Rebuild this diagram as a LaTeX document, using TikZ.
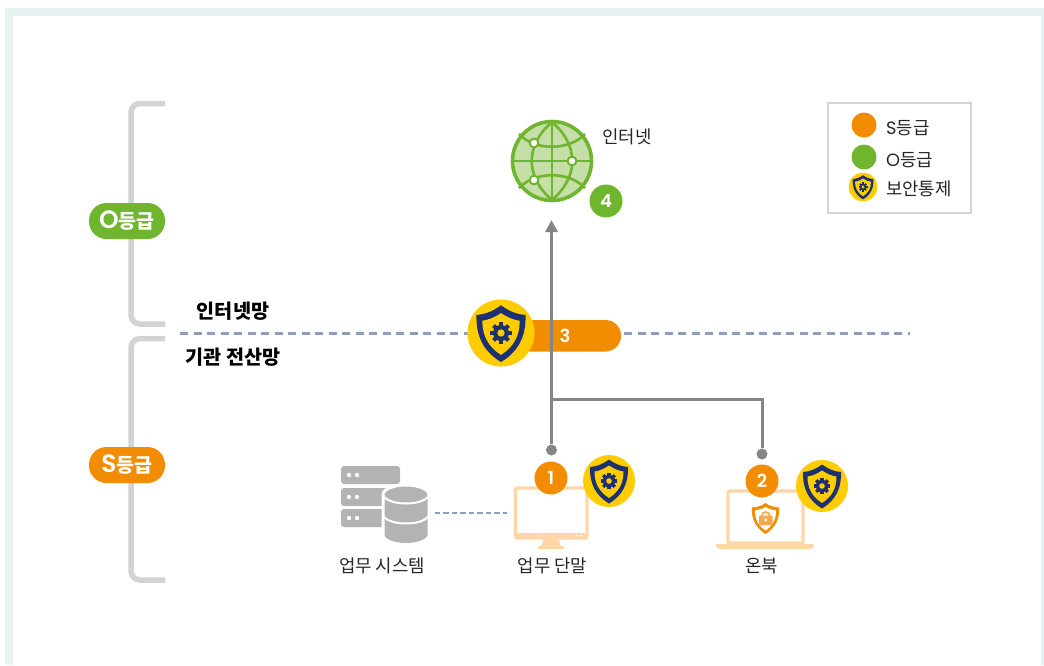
\documentclass[tikz,border=0pt]{standalone}
\usepackage{fontspec}
\setmainfont{Noto Sans CJK KR}
\newfontfamily\latinbold{Poppins SemiBold}
\usetikzlibrary{arrows.meta}
\definecolor{frameC}{HTML}{E6F3F2}
\definecolor{orangeC}{HTML}{F28C00}
\definecolor{greenC}{HTML}{6FB52E}
\definecolor{yellowC}{HTML}{FFCC00}
\definecolor{navyC}{HTML}{1D3170}
\definecolor{grayL}{HTML}{D2D3D3}
\definecolor{grayM}{HTML}{858585}
\definecolor{dashC}{HTML}{8F9EC0}
\definecolor{peachC}{HTML}{FDD7A8}
\definecolor{serverC}{HTML}{B2B3B4}
\definecolor{globeF}{HTML}{C6DFA8}
\definecolor{lockC}{HTML}{F6A84A}
\tikzset{
  lbl/.style={font=\fontsize{17.8}{20}\selectfont,text=black!85,inner sep=0pt},
  blbl/.style={font=\fontsize{19.6}{21}\selectfont\bfseries,text=black,inner sep=0pt},
  bracket/.style={draw=grayL,line width=5.5pt,rounded corners=9pt},
  dashline/.style={draw=dashC,line width=3pt,dash pattern=on 8pt off 5.5pt},
  conn/.style={draw=grayM,line width=3pt},
  pill/.style={rounded corners=17.5pt,minimum width=76pt,minimum height=36pt,inner sep=0pt,text=white,font=\fontsize{19.5}{20}\selectfont},
  num/.style={circle,minimum size=33pt,inner sep=0pt,text=white,font=\fontsize{18}{20}\selectfont\latinbold},
  dot/.style={circle,fill=grayM,minimum size=11pt,inner sep=0pt},
  pics/shield/.style={code={
    \begin{scope}[scale=#1]
      \fill[yellowC] (0,0) circle (26);
      \fill[navyC] (0,-21.5) .. controls (6,-17) and (12,-14.5) .. (19,-14) .. controls (19.5,2) and (14,14) .. (0,22.5) .. controls (-14,14) and (-19.5,2) .. (-19,-14) .. controls (-12,-14.5) and (-6,-17) .. (0,-21.5) -- cycle;
      \fill[yellowC] (0,-15.5) .. controls (5,-12) and (10,-10) .. (14.5,-9.5) .. controls (14.5,2) and (10,10.5) .. (0,17) .. controls (-10,10.5) and (-14.5,2) .. (-14.5,-9.5) .. controls (-10,-10) and (-5,-12) .. (0,-15.5) -- cycle;
      \foreach \a in {0,45,...,315}{\fill[navyC,rotate=\a] (-1.6,-1) rectangle (1.6,-8.2);}
      \fill[navyC] (0,0) circle (6.2);
      \fill[yellowC] (0,0) circle (2.8);
    \end{scope}
  }},
}
\begin{document}
\begin{tikzpicture}[x=1pt,y=-1pt]
\useasboundingbox (0,0) rectangle (1044,665);
\fill[white] (0,0) rectangle (1044,665);
\fill[frameC] (5,8) rectangle (1043.5,665);
\fill[white] (13,16) rectangle (1040.5,665);

% brackets
\draw[bracket] (165,103.5) -- (131,103.5) -- (131,324) -- (165,324);
\draw[bracket] (165,338.5) -- (131,338.5) -- (131,580) -- (165,580);
\node[pill,fill=greenC] (og) at (127,221) {{\fontsize{25}{25}\selectfont\latinbold O}{\bfseries 등급}};
\node[pill,fill=orangeC] (sg) at (127,465) {{\fontsize{25}{25}\selectfont\latinbold S}{\bfseries 등급}};
\node[blbl] (inet) at (233,311) {인터넷망};
\node[blbl] (gov) at (233,357) {기관 전산망};

% boundary
\coordinate (dl1) at (180,333);
\coordinate (dl2) at (468,333);
\coordinate (dr1) at (624,333);
\coordinate (dr2) at (910,333);
\draw[dashline] (dl1) -- (dl2);
\draw[dashline] (dr1) -- (dr2);
\fill[orangeC,rounded corners=15.5pt] (500,320) rectangle (621,351.5);
\node[text=white,font=\fontsize{18}{20}\selectfont\latinbold,inner sep=0pt] (n3) at (565,336) {3};

% connectors
\coordinate (arrowtip) at (551,220);
\coordinate (tee) at (551.5,399);
\node[dot] (d1) at (551.5,450) {};
\node[dot] (d2) at (762,454) {};
\draw[conn,-{Triangle[width=12pt,length=12pt]}] (d1) -- (d1 |- arrowtip);
\draw[conn] (tee) -| (d2);
\pic at (501,333) {shield=1.29};

% globe
\node[circle,draw=greenC,fill=globeF,line width=3.6pt,minimum size=79pt,inner sep=0pt] (globe) at (552,161) {};
\begin{scope}[draw=greenC,line width=2.6pt]
  \draw (513,161) -- (591,161);
  \draw (552,122) -- (552,200);
  \draw (552,122) .. controls (525,145) and (525,177) .. (552,200);
  \draw (552,122) .. controls (579,145) and (579,177) .. (552,200);
  \draw (519,134) .. controls (535,151) and (569,151) .. (585,134);
  \draw (519,188) .. controls (535,171) and (569,171) .. (585,188);
\end{scope}
\foreach \p in {(534,143),(572,161),(534,180)}{\fill[white,draw=greenC,line width=2pt] \p circle (4.4);}
\node[num,fill=greenC] (n4) at (606,201) {4};
\node[lbl] (inetlabel) at (627,137) {인터넷};

% legend
\node[draw=grayL,line width=1.4pt,fill=white,minimum width=143pt,minimum height=110pt,inner sep=0pt] (legend) at (899.5,158) {};
\fill[orangeC] (864,125) circle (12.5);
\fill[greenC] (864,157) circle (12.5);
\pic at (863,187) {shield=0.55};
\node[lbl,anchor=west] (l1) at (886,128) {{\fontspec{Poppins}S}등급};
\node[lbl,anchor=west] (l2) at (886,160) {{\fontspec{Poppins}O}등급};
\node[lbl,anchor=west] (l3) at (886,189) {보안통제};

% server
\foreach \y in {466,488,509}{
  \fill[serverC,rounded corners=3pt] (341,\y) rectangle (400,\y+18);
  \fill[white] (349,\y+9) circle (2.2);
  \fill[white] (357,\y+9) circle (2.2);
}
\filldraw[fill=serverC,draw=white,line width=3pt] (383,494.5) arc[start angle=180,end angle=360,x radius=23,y radius=9.5] -- (429,535) arc[start angle=0,end angle=180,x radius=23,y radius=9.5] -- cycle;
\draw[white,line width=2pt] (383,494) arc[start angle=180,end angle=0,x radius=23,y radius=9.5];
\draw[white,line width=2pt] (383,514) arc[start angle=180,end angle=0,x radius=23,y radius=9.5];
\node[inner sep=0pt,minimum size=1pt] (srv) at (429,513) {};
\node[lbl] (srvl) at (382,566) {업무 시스템};

% monitor
\draw[peachC,line width=3.4pt,rounded corners=2pt,fill=white] (515.5,488) rectangle (587,538);
\fill[peachC] (515,533) rectangle (587,539);
\fill[peachC] (544,539) -- (558,539) -- (561,546) -- (541,546) -- cycle;
\fill[peachC] (538,546) rectangle (564,549);
\fill[white] (577,535.5) circle (1);
\fill[white] (581,535.5) circle (1);
\node[inner sep=0pt,minimum size=1pt] (mon) at (508,513) {};
\draw[dashline,line width=1.9pt,dash pattern=on 5.5pt off 3pt] (srv.east) ++(5,0) -- (mon);
\node[num,fill=orangeC] (n1) at (551,478) {1};
\pic at (609,481) {shield=1};
\node[lbl] (monl) at (552.5,566) {업무 단말};

% laptop
\draw[peachC,line width=3.4pt,rounded corners=2pt,fill=white] (728,491) rectangle (803,543);
\fill[peachC,rounded corners=2.5pt] (715,544) -- (815,544) -- (812,549) -- (718,549) -- cycle;
\node[num,fill=orangeC] (n2) at (762,481) {2};
\pic at (822,486) {shield=1};
\fill[orangeC] (765.5,503) .. controls (769,506) and (774,507) .. (779,507.5) .. controls (780,519) and (775,528) .. (765.5,534) .. controls (756,528) and (751,519) .. (752,507.5) .. controls (757,507) and (762,506) .. (765.5,503) -- cycle;
\fill[white] (765.5,507) .. controls (769,509) and (772.5,510) .. (776,510.5) .. controls (776.5,518) and (773,525.5) .. (765.5,530.5) .. controls (758,525.5) and (754.5,518) .. (755,510.5) .. controls (758.5,510) and (762,509) .. (765.5,507) -- cycle;
\fill[lockC,rounded corners=1pt] (759,515.5) rectangle (772.5,525);
\draw[lockC,line width=1.6pt] (761.7,516) arc[start angle=180,end angle=360,radius=4];
\fill[white] (765.7,520) circle (1.6);
\node[lbl] (lapl) at (761.5,566) {온북};
\end{tikzpicture}
\end{document}
